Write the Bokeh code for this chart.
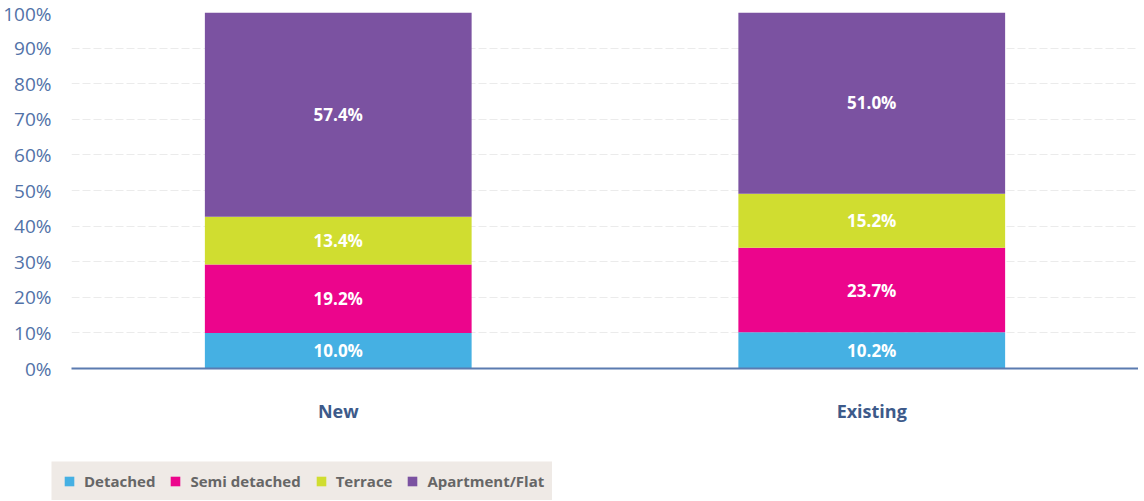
from bokeh.plotting import figure
from bokeh.models import FactorRange, FixedTicker, CustomJSTickFormatter, Legend, LegendItem, ColumnDataSource, Range1d
from bokeh.core.properties import value
from bokeh.embed import file_html
from bokeh.resources import INLINE
import numpy as np

categories = ["New", "Existing"]
series = ["Detached", "Semi detached", "Terrace", "Apartment/Flat"]
detached = [10.0, 10.2]
semi_detached = [19.2, 23.7]
terrace = [13.4, 15.2]
apartment = [57.4, 51.0]
colors = ["#45b0e3", "#ec058c", "#d0dd30", "#7b52a1"]
y_ticks = [0, 10, 20, 30, 40, 50, 60, 70, 80, 90, 100]

FONT = "Open Sans"

p = figure(x_range=FactorRange(*categories), y_range=(0, 100),
           width=1138, height=448, output_backend="svg", toolbar_location=None,
           min_border_left=70, min_border_right=0, min_border_top=12, min_border_bottom=80)
p.x_range.range_padding = 0
p.outline_line_color = None

keys = ["detached", "semi_detached", "terrace", "apartment"]
data = dict(cat=categories, detached=detached, semi_detached=semi_detached,
            terrace=terrace, apartment=apartment)
src = ColumnDataSource(data)
renderers = p.vbar_stack(keys, x="cat", width=0.5, source=src, color=colors, line_color=None)

vals = np.array([detached, semi_detached, terrace, apartment])
cum = np.cumsum(vals, axis=0)
mids = cum - vals / 2
for i in range(len(keys)):
    lab = ColumnDataSource(dict(cat=categories, y=list(mids[i]),
                                t=["%.1f%%" % v for v in vals[i]]))
    p.text(x="cat", y="y", text="t", source=lab, text_align="center", text_baseline="middle",
           text_color="white", text_font=value(FONT), text_font_style="bold", text_font_size="17px")

p.yaxis.ticker = FixedTicker(ticks=y_ticks)
p.yaxis.formatter = CustomJSTickFormatter(code="return tick + '%';")
p.yaxis.axis_line_color = None
p.yaxis.major_tick_line_color = None
p.yaxis.minor_tick_line_color = None
p.yaxis.major_label_text_color = "#5272a8"
p.yaxis.major_label_text_font = FONT
p.yaxis.major_label_text_font_size = "19px"
p.yaxis.major_label_standoff = 14

p.xaxis.axis_line_color = "#5b7bb0"
p.xaxis.axis_line_width = 2
p.xaxis.major_tick_line_color = None
p.xaxis.minor_tick_line_color = None
p.xaxis.major_label_text_color = "#3d5a8a"
p.xaxis.major_label_text_font = FONT
p.xaxis.major_label_text_font_style = "bold"
p.xaxis.major_label_text_font_size = "18px"
p.xaxis.major_label_standoff = 24

p.xgrid.grid_line_color = None
p.ygrid.grid_line_color = "#ebebeb"
p.ygrid.grid_line_dash = "8 3"
p.ygrid.grid_line_width = 1

# legend strip (separate root, so it is not frame-aligned with the chart)
LBG = "#efeae6"
q = figure(width=501, height=39, output_backend="svg", toolbar_location=None,
           x_range=Range1d(0, 1), y_range=Range1d(0, 1),
           min_border=0, background_fill_color=LBG, border_fill_color=LBG)
q.margin = (13, 0, 0, 51)
q.axis.visible = False
q.grid.visible = False
q.outline_line_color = None
q_rs = [q.vbar(x=[5], top=[1], width=1, color=c, line_color=None) for c in colors]
legend = Legend(items=[LegendItem(label=s, renderers=[r]) for s, r in zip(series, q_rs)],
                orientation="horizontal", location=(12, 9),
                background_fill_alpha=0, border_line_color=None,
                label_text_font=FONT, label_text_font_style="bold", label_text_color="#666666",
                label_text_font_size="15px", glyph_width=12, glyph_height=12,
                spacing=14, padding=0, margin=0, label_standoff=9)
q.add_layout(legend, "center")

open("out.html", "w").write(file_html([p, q], INLINE))
